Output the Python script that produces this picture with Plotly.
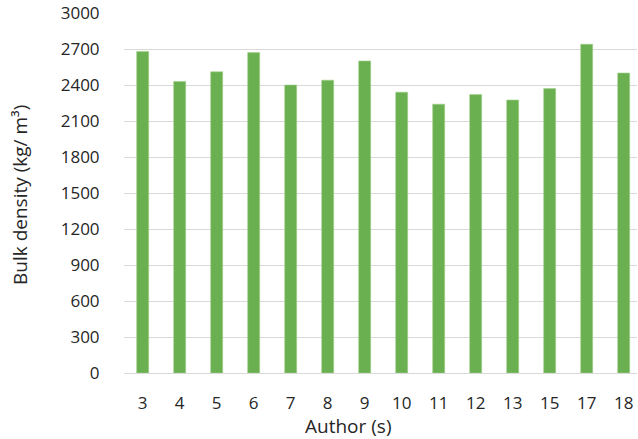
import plotly.graph_objects as go

authors = ["3", "4", "5", "6", "7", "8", "9", "10", "11", "12", "13", "15", "17", "18"]
bulk_density = [2680, 2430, 2510, 2670, 2400, 2440, 2600, 2340, 2240, 2320, 2275, 2370, 2740, 2500]
y_ticks = [0, 300, 600, 900, 1200, 1500, 1800, 2100, 2400, 2700, 3000]

FONT = "Open Sans"
TXT = "#262626"

W, H = 638, 439
L, R, T, B = 124, 1, 13, 66
PW = W - L - R
PH = H - T - B

fig = go.Figure(
    go.Bar(
        x=authors,
        y=bulk_density,
        marker=dict(color="#6aaf50", line=dict(color="#9fd08a", width=0.6)),
    )
)

fig.update_layout(
    width=W,
    height=H,
    margin=dict(l=L, r=R, t=T, b=B),
    paper_bgcolor="white",
    plot_bgcolor="white",
    bargap=0.676,
    showlegend=False,
    font=dict(family=FONT, size=17, color=TXT),
)

fig.update_xaxes(
    type="category",
    range=[-0.505, 13.36],
    showgrid=False,
    showline=False,
    ticks="outside",
    ticklen=15,
    tickcolor="rgba(0,0,0,0)",
    tickfont=dict(family=FONT, size=17, color=TXT),
)

fig.update_yaxes(
    range=[0, 3000],
    tickvals=y_ticks,
    showgrid=True,
    gridcolor="#d9d9d9",
    gridwidth=1.3,
    zeroline=True,
    zerolinecolor="#d9d9d9",
    zerolinewidth=1.3,
    showline=False,
    ticks="outside",
    ticklen=20,
    tickcolor="rgba(0,0,0,0)",
    tickfont=dict(family=FONT, size=17, color=TXT),
)

fig.add_annotation(
    text="Author (s)",
    xref="paper", yref="paper",
    x=(348 - L) / PW, y=-(426 - (H - B)) / PH,
    xanchor="center", yanchor="middle",
    showarrow=False,
    font=dict(family=FONT, size=19, color=TXT),
)

fig.add_annotation(
    text="Bulk density (kg/ m³)",
    xref="paper", yref="paper",
    x=(20 - L) / PW, y=((H - B) - 195) / PH,
    xanchor="center", yanchor="middle",
    textangle=-90,
    showarrow=False,
    font=dict(family=FONT, size=19, color=TXT),
)

fig.write_html(
    "out.html",
    config={"displayModeBar": False},
    post_script="document.body.style.margin='0';document.body.style.padding='0';",
)
